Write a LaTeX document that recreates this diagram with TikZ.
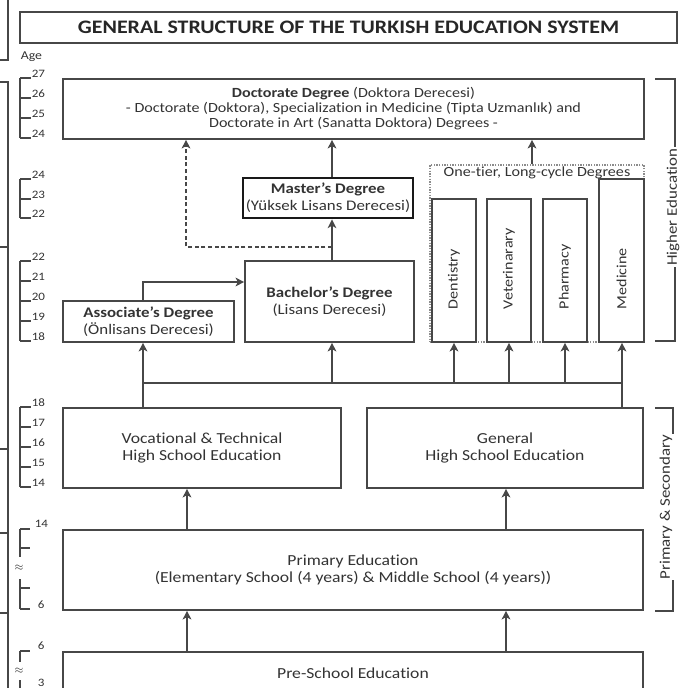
\documentclass[tikz,border=0pt]{standalone}
\usepackage{fontspec}
\setmainfont{Carlito}[FakeStretch=1.15,Ligatures=NoCommon]
\usetikzlibrary{positioning,arrows.meta}

\begin{document}
\begin{tikzpicture}[
	x=0.75pt,y=-0.75pt,
	line width=1.2pt,
	draw=black!72,
	>={Stealth[length=6.5pt,width=6.5pt,inset=1.8pt]},
	every node/.style={text=black!80},
	boxsize/.style 2 args={minimum width=#1*0.75pt,minimum height=#2*0.75pt},
	mybox/.style={draw=black!72,line width=1.2pt,inner sep=0pt,align=center,font=\fontsize{11.5}{12.75}\selectfont},
	degbox/.style={mybox,font=\fontsize{11}{13}\selectfont},
	vlabel/.style={rotate=90,anchor=west,inner sep=0pt,font=\fontsize{10.5}{12.75}\selectfont},
	sidelabel/.style={rotate=90,inner sep=1pt,fill=white,font=\fontsize{11}{12.75}\selectfont},
	agenum/.style={anchor=west,inner sep=0pt,font=\fontsize{8.5}{9}\selectfont}
	]
	\useasboundingbox (0,0) rectangle (679,688);
	\node[mybox,boxsize={657}{31},font=\fontsize{14.3}{18}\selectfont\bfseries,text=black!85] (title) at (348.5,27.5) {GENERAL STRUCTURE OF THE TURKISH EDUCATION SYSTEM};
	\node[anchor=west,inner sep=0pt,font=\fontsize{9}{9}\selectfont] (age) at (20,57) {Age};
	\node[mybox,boxsize={581}{60},font=\fontsize{10.5}{11.25}\selectfont] (doct) at (353.5,109)
		{\textbf{Doctorate Degree} (Doktora Derecesi)\\- Doctorate (Doktora), Specialization in Medicine (Tipta Uzmanlık) and\\Doctorate in Art (Sanatta Doktora) Degrees -};
	\node[degbox,boxsize={170}{40},line width=2.2pt,draw=black!90] (master) at (328,198) {\textbf{Master's Degree}\\(Yüksek Lisans Derecesi)};
	\node[degbox,boxsize={169}{81}] (bach) at (329.5,301.5) {\textbf{Bachelor's Degree}\\(Lisans Derecesi)};
	\node[degbox,boxsize={171}{41}] (assoc) at (148.5,321.5) {\textbf{Associate's Degree}\\(Önlisans Derecesi)};
	\node[draw=black!45,line width=1pt,densely dotted,inner sep=0pt,boxsize={214}{177}] (onetier) at (537,253.5) {};
	\node[inner sep=0pt,font=\fontsize{10.5}{12.75}\selectfont] (onelabel) at (537,173) {One-tier, Long-cycle Degrees};
	\foreach \x/\name/\txt in {454/dent/Dentistry,509/vet/Veterinarary,565/pharm/Pharmacy}
	{
		\node[mybox,boxsize={44}{143}] (\name) at (\x,270.5) {};
		\node[vlabel] (\name label) at (\x,310) {\txt};
	}
	\node[mybox,boxsize={45}{163}] (med) at (621.5,260.5) {};
	\node[vlabel] (med label) at (621.5,310) {Medicine};
	\node[mybox,boxsize={278}{80}] (voc) at (202,448) {Vocational \& Technical\\High School Education};
	\node[mybox,boxsize={276}{80}] (gen) at (505,448) {General\\High School Education};
	\node[mybox,boxsize={580}{80}] (prim) at (353,570) {Primary Education\\(Elementary School (4 years) \& Middle School (4 years))};
	\node[mybox,boxsize={580}{42}] (pre) at (353,673) {Pre-School Education};
	
	\coordinate (colA) at (143,383);
	\coordinate (colB) at (332,383);
	\coordinate (colM) at (622,383);
	\coordinate (colO) at (532,0);
	\coordinate (colL) at (187,0);
	\coordinate (colR) at (506,0);
	\coordinate (ab) at (143,282);
	\coordinate (dv) at (186,247);
	
	\draw (voc.north -| colA) -- (colA) -- (colM) -- (gen.north -| colM);
	\path [->]
	(colA) edge (assoc.south -| colA)
	(colB) edge (bach.south -| colB)
	(dent.south |- colA) edge (dent.south)
	(vet.south |- colA) edge (vet.south)
	(pharm.south |- colA) edge (pharm.south)
	(colM) edge (med.south -| colM)
	(bach.north -| colB) edge (master.south -| colB)
	(master.north -| colB) edge (doct.south -| colB)
	(onetier.north -| colO) edge (doct.south -| colO)
	(pre.north -| colL) edge (prim.south -| colL)
	(pre.north -| colR) edge (prim.south -| colR)
	(prim.north -| colL) edge (voc.south -| colL)
	(prim.north -| colR) edge (gen.south -| colR);
	\draw[->] (assoc.north -| colA) |- (bach.west |- ab);
	\draw[->,densely dashed] (dv -| colB) -| (doct.south -| dv);
	
	\draw (655,79) -- (675,79) -- (675,341) -- (655,341);
	\node[sidelabel] (higher) at (673,207) {Higher Education};
	\draw (655,408) -- (673,408) -- (673,611) -- (655,611);
	\node[sidelabel,minimum height=14pt] (primsec) at (666,507) {Primary \& Secondary};
	
	\draw (8,0) -- (8,60) -- (0,60);
	\draw (0,82) -- (8,82) -- (8,688);
	\foreach \y in {247,449,533,613}
	\draw (0,\y) -- (8,\y);
	
	\foreach \ya/\yb in {78/138,179/218,261/341,407/487,529/557,579/609,651/662,680/690}
	\draw[line width=1pt] (20,\ya) -- (20,\yb);
	\foreach \y/\n in {74/27,94/26,114/25,134/24,175/24,195/23,214/22,257/22,277/21,297/20,317/19,337/18,403/18,423/17,443/16,463/15,483/14}
	{
		\draw[line width=1pt] (20,\y+4) -- (31,\y+4);
		\node[agenum] (age-\y) at (31,\y) {\n};
	}
	\foreach \y in {529,548,588,609,651}
	\draw[line width=1pt] (20,\y) -- (30,\y);
	\node[agenum] (age14) at (34,524) {14};
	\node[agenum] (age6a) at (37,605) {6};
	\node[agenum] (age6b) at (37,646) {6};
	\node[agenum] (age3) at (37,683) {3};
	\node[inner sep=0pt,font=\fontsize{8}{8}\selectfont] (gapA) at (19,568) {$\approx$};
	\node[inner sep=0pt,font=\fontsize{8}{8}\selectfont] (gapB) at (19,671) {$\approx$};
\end{tikzpicture}
\end{document}
